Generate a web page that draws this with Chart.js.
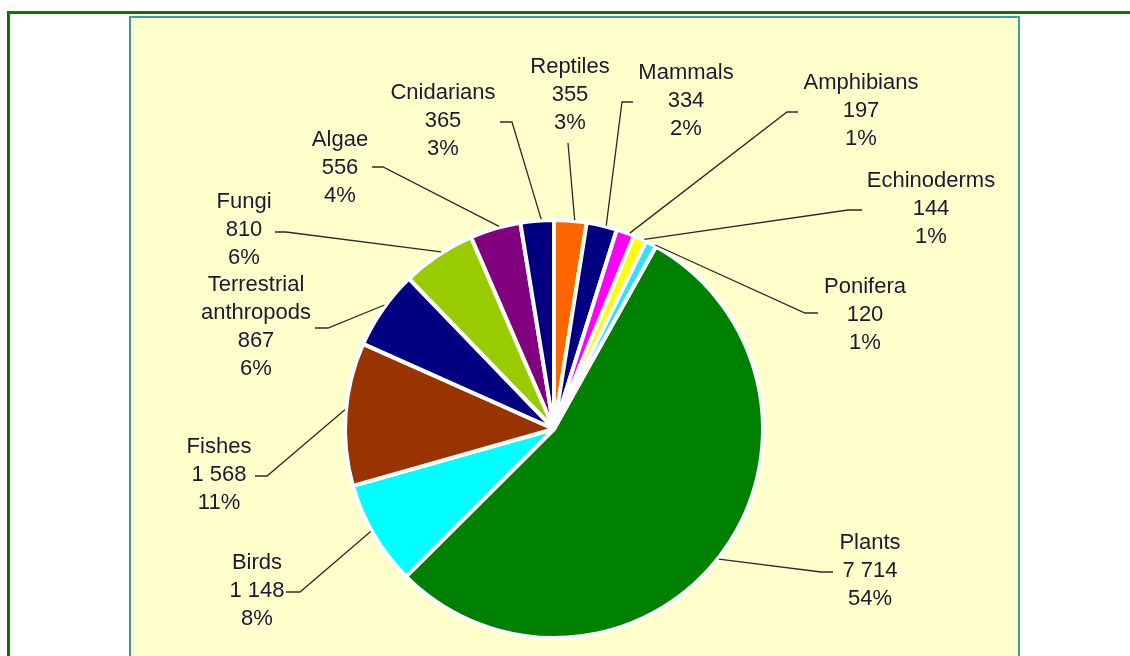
<!DOCTYPE html>
<html>
<head>
<meta charset="utf-8">
<script src="https://cdn.jsdelivr.net/npm/chart.js@4"></script>
<style>
  html, body { margin: 0; padding: 0; background: #fff; }
  body { width: 1130px; height: 656px; position: relative; overflow: hidden; }
  #frame { position: absolute; left: 7px; top: 11px; width: 1200px; height: 700px;
           border-top: 3px solid #007a00; border-left: 3px solid #007a00; }
  #panel { position: absolute; left: 129px; top: 16px; width: 887px; height: 700px;
           background: #ffffcc; border: 2px solid #3f9c9c; }
  #wrap { position: absolute; left: 0; top: 0; width: 1130px; height: 656px; }
</style>
</head>
<body>
<div id="frame"></div>
<div id="panel"></div>
<div id="wrap"><canvas id="myChart" width="1130" height="656"></canvas></div>
<script>
const categories = ['Plants', 'Birds', 'Fishes', ['Terrestrial', 'anthropods'], 'Fungi', 'Algae',
                    'Cnidarians', 'Reptiles', 'Mammals', 'Amphibians', 'Echinoderms', 'Ponifera'];
const speciesCounts = [7714, 1148, 1568, 867, 810, 556, 365, 355, 334, 197, 144, 120];
const sliceColors = ['#008000', '#00ffff', '#993300', '#000080', '#99cc00', '#800080',
                     '#000080', '#ff6600', '#000080', '#ff00ff', '#ffff00', '#33e0ff'];

// where each label sits (text centre x, first line y) and its short horizontal stub
const labelLayout = [
    { x: 870, y: 543, stub: [833, 572, 821, 572] },
    { x: 257, y: 563, stub: [286, 592, 300, 592] },
    { x: 219, y: 447, stub: [255, 476, 267, 476] },
    { x: 256, y: 285, stub: [315, 328, 328, 328] },
    { x: 244, y: 202, stub: [275, 232, 286, 232] },
    { x: 340, y: 140, stub: [372, 167, 383, 167] },
    { x: 443, y: 93,  stub: [500, 122, 512, 122] },
    { x: 570, y: 67,  stub: [568, 143, 568, 143] },
    { x: 686, y: 73,  stub: [633, 102, 622, 102] },
    { x: 861, y: 83,  stub: [798, 112, 787, 112] },
    { x: 931, y: 181, stub: [862, 210, 848, 210] },
    { x: 865, y: 287, stub: [818, 313, 805, 313] }
];

const total = speciesCounts.reduce((a, b) => a + b, 0);

function formatCount(n){
    return String(n).replace(/\B(?=(\d{3})+(?!\d))/g, ' ');
}

const leaderLabels = {
    id: 'leaderLabels',
    afterDatasetsDraw(chart){
        const ctx = chart.ctx;
        const arcs = chart.getDatasetMeta(0).data;
        ctx.save();
        arcs.forEach((arc, i) => {
            const lay = labelLayout[i];
            // leader meets the rim a touch clockwise of the slice middle, as in the original
            const mid = (arc.startAngle + arc.endAngle) / 2 + 0.02;
            const r = arc.outerRadius + 1;
            const ax = arc.x + Math.cos(mid) * r;
            const ay = arc.y + Math.sin(mid) * r;

            ctx.strokeStyle = '#2b2b2b';
            ctx.lineWidth = 1.3;
            ctx.beginPath();
            ctx.moveTo(lay.stub[0], lay.stub[1]);
            ctx.lineTo(lay.stub[2], lay.stub[3]);
            ctx.lineTo(ax, ay);
            ctx.stroke();

            const name = categories[i];
            const lines = [].concat(name);
            lines.push(formatCount(speciesCounts[i]));
            lines.push(Math.round(speciesCounts[i] / total * 100) + '%');

            ctx.fillStyle = '#1a1a30';
            ctx.font = '22px "Liberation Sans", Arial, sans-serif';
            ctx.textAlign = 'center';
            ctx.textBaseline = 'middle';
            lines.forEach((t, k) => ctx.fillText(t, lay.x, lay.y + k * 28));
        });
        ctx.restore();
    }
};

const ctx = document.getElementById('myChart').getContext('2d');
const myChart = new Chart(ctx, {
    type: 'pie',
    data: {
        labels: categories,
        datasets: [{
            data: speciesCounts,
            backgroundColor: sliceColors,
            borderColor: '#ffffff',
            borderWidth: 4
        }]
    },
    options: {
        responsive: false,
        animation: false,
        radius: 209,
        rotation: 29.2,
        layout: { padding: { left: 0, right: 22, top: 202, bottom: 0 } },
        plugins: {
            legend: { display: false },
            tooltip: { enabled: false }
        }
    },
    plugins: [leaderLabels]
});
</script>
</body>
</html>
